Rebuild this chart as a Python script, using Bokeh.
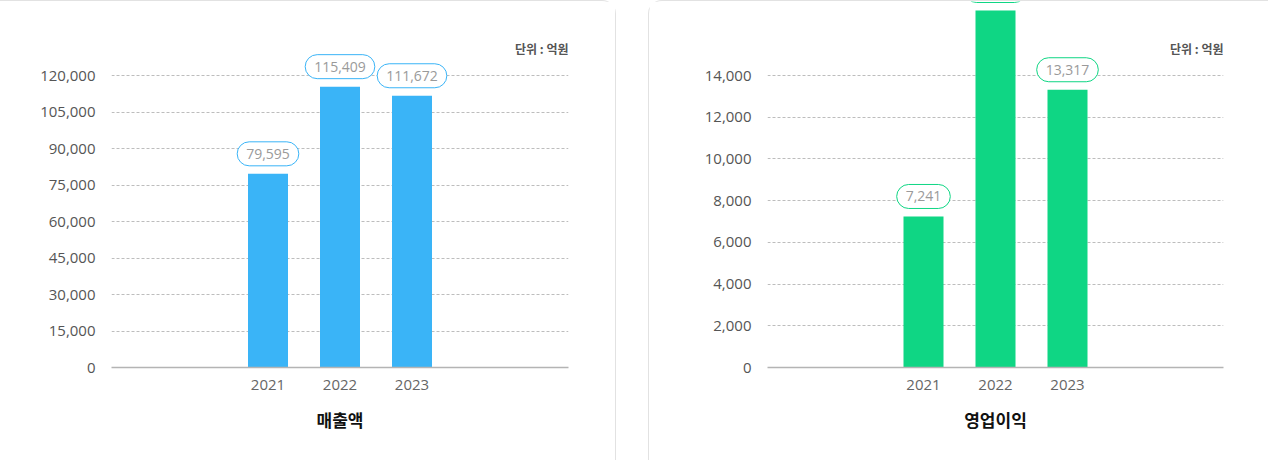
from bokeh.plotting import figure
from bokeh.layouts import row
from bokeh.models import FactorRange, Range1d, FixedTicker, NumeralTickFormatter, Label, ColumnDataSource
from bokeh.embed import file_html
from bokeh.resources import INLINE
from bokeh.core.properties import value

# ---- data ----
years = ["2021", "2022", "2023"]
sales = [79595, 115409, 111672]
profit = [7241, 17116, 13317]
sales_ticks = [0, 15000, 30000, 45000, 60000, 75000, 90000, 105000, 120000]
profit_ticks = [0, 2000, 4000, 6000, 8000, 10000, 12000, 14000]
sales_title = "매출액"
profit_title = "영업이익"
unit_text = "단위 : 억원"

BLUE = "#3ab4f7"
GREEN = "#0fd684"
FONT = "Open Sans"
KFONT = "Noto Sans CJK KR"
H = 460


def make(vals, ticks, ymax, color, title, width, min_left, min_right, card_styles):
    frame_w = width - min_left - min_right
    unit = 72.0
    pad = (frame_w / unit - len(years)) / 2
    p = figure(
        x_range=FactorRange(*years, range_padding=pad, range_padding_units="absolute"),
        y_range=Range1d(0, ymax),
        width=width, height=H,
        output_backend="svg", toolbar_location=None,
        min_border_left=min_left, min_border_right=min_right,
        min_border_top=0, min_border_bottom=H - 366,
    )
    p.outline_line_color = None
    p.background_fill_color = "white"
    p.border_fill_color = "white"
    p.styles = card_styles

    src = ColumnDataSource(dict(x=years, y=vals, label=[f"{v:,}" for v in vals]))
    p.vbar(x="x", top="y", width=40 / unit, source=src, color=color, line_color=None)
    p.text(x="x", y="y", text="label", source=src,
           text_align="center", text_baseline="bottom", y_offset=-8,
           text_font=value(FONT), text_font_size="14px", text_color="#9a9a9a",
           background_fill_color="white", border_line_color=color, border_line_width=1,
           border_radius=12, padding=[9, 7])

    p.xgrid.grid_line_color = None
    p.ygrid.grid_line_color = "#bdbdbd"
    p.ygrid.grid_line_dash = "3 2"
    p.ygrid.grid_line_width = 1
    p.ygrid.ticker = FixedTicker(ticks=ticks[1:])

    p.yaxis.ticker = FixedTicker(ticks=ticks)
    p.yaxis.formatter = NumeralTickFormatter(format="0,0")
    p.yaxis.axis_line_color = None
    p.yaxis.major_tick_line_color = None
    p.yaxis.minor_tick_line_color = None
    p.yaxis.major_label_text_font = FONT
    p.yaxis.major_label_text_font_size = "15px"
    p.yaxis.major_label_text_color = "#555555"
    p.yaxis.major_label_standoff = 10

    p.xaxis.axis_line_color = "#b4b4b4"
    p.xaxis.axis_line_width = 1.5
    p.xaxis.major_tick_line_color = None
    p.xaxis.minor_tick_line_color = None
    p.xaxis.major_label_text_font = FONT
    p.xaxis.major_label_text_font_size = "15px"
    p.xaxis.major_label_text_color = "#666666"
    p.xaxis.major_label_standoff = 6
    p.xaxis.axis_label = title
    p.xaxis.axis_label_text_font = KFONT
    p.xaxis.axis_label_text_font_style = "bold"
    p.xaxis.axis_label_text_font_size = "17px"
    p.xaxis.axis_label_text_color = "#111111"
    p.xaxis.axis_label_standoff = 14

    p.add_layout(Label(x=frame_w, y=319, x_units="screen", y_units="screen", text=unit_text,
                       text_align="right", text_baseline="middle", text_font=KFONT,
                       text_font_size="12px", text_font_style="bold", text_color="#555555"))
    return p


border = "1px solid #e2e2e2"
p1 = make(sales, sales_ticks, 366 * 120000 / 292, BLUE, sales_title, 616, 111, 48,
          {"border-top": border, "border-right": border, "border-top-right-radius": "14px"})
p2 = make(profit, profit_ticks, 366 * 14000 / 292, GREEN, profit_title, 620, 118, 46,
          {"border-top": border, "border-left": border, "border-top-left-radius": "14px"})

layout = row(p1, p2, spacing=32)
open("out.html", "w").write(file_html(layout, INLINE))
